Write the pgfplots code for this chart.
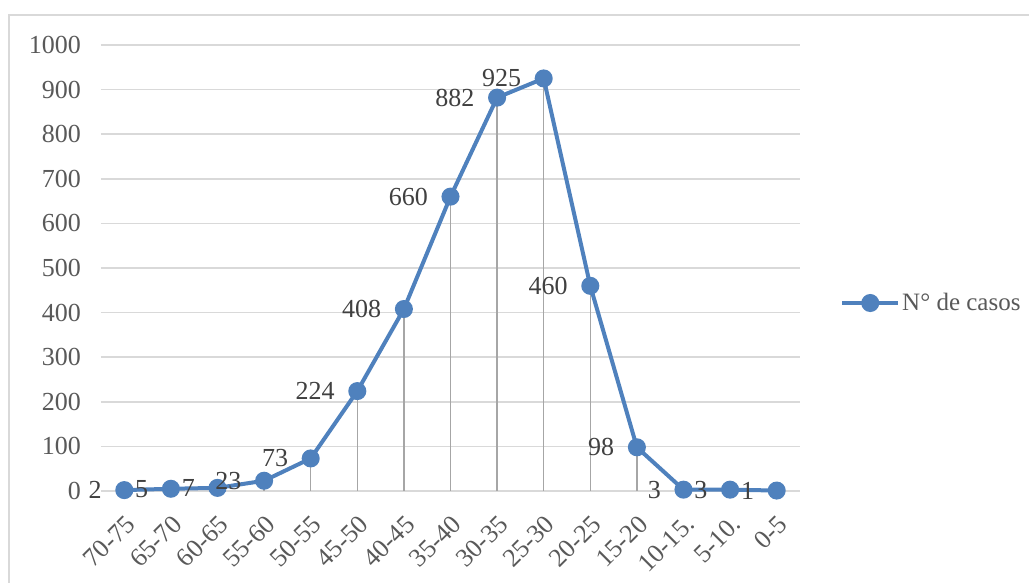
\documentclass[border=0pt]{standalone}
\usepackage{pgfplots}
\pgfplotsset{compat=1.18}
\usepackage{pgfplotstable}
\usepackage{fontspec}
\setmainfont{Liberation Serif}

\definecolor{serie}{HTML}{4F81BD}
\definecolor{rejilla}{HTML}{D9D9D9}
\definecolor{caida}{HTML}{A6A6A6}
\definecolor{texto}{HTML}{595959}
\definecolor{etiqueta}{HTML}{404040}

\newcommand{\letra}{\fontsize{13}{15}\selectfont}

% x = posicion de la categoria, casos = N de casos
\pgfplotstableread{
x casos
0 2
1 5
2 7
3 23
4 73
5 224
6 408
7 660
8 882
9 925
10 460
11 98
12 3
13 3
14 1
}\datos

\begin{document}
\begin{tikzpicture}
\path[use as bounding box] (-50.5pt,-46pt) rectangle (464pt,245.5pt);
\begin{scope}
  \clip (-50.5pt,-46pt) rectangle (464pt,245.5pt);
  \draw[rejilla, line width=1pt] (-46pt,-80pt) -- (-46pt,238pt) -- (500pt,238pt);
\end{scope}
\begin{axis}[
  at={(0,0)}, anchor=south west,
  scale only axis,
  width=349.5pt, height=223pt,
  xmin=-0.5, xmax=14.5,
  ymin=0, ymax=1000,
  clip=false,
  axis line style={draw=none},
  tick style={draw=none},
  ymajorgrids,
  grid style={rejilla, line width=0.75pt},
  ytick={0,100,...,1000},
  xtick={0,...,14},
  xticklabels={70-75,65-70,60-65,55-60,50-55,45-50,40-45,35-40,30-35,25-30,20-25,15-20,{10-15.},{5-10.},0-5},
  /pgf/number format/assume math mode=true,
  /pgf/number format/1000 sep={},
  tick label style={font=\letra, text=texto},
  yticklabel style={anchor=east, xshift=-6.5pt},
  xticklabel style={rotate=45, anchor=east, xshift=-4.5pt, yshift=-12.5pt},
  legend style={at={(axis description cs:1.057,0.4215)}, anchor=west,
    draw=none, fill=none, inner sep=0pt, font=\fontsize{12.5}{15}\selectfont, text=texto,
    nodes={inner sep=1pt}},
  legend image code/.code={
    \draw[mark repeat=2, mark phase=2] plot coordinates {(0pt,0pt) (14pt,0pt) (28pt,0pt)};
  },
]
\addplot[ycomb, caida, line width=0.75pt, mark=none, forget plot]
  table[x=x, y=casos] {\datos};
\addplot[serie, line width=2pt, mark=*, mark size=3.5pt,
  mark options={fill=serie, draw=serie},
  nodes near coords,
  nodes near coords style={anchor=east, xshift=-7pt, font=\letra, text=etiqueta}]
  table[x=x, y=casos] {\datos};
\addlegendentry{N° de casos}
\end{axis}
\end{tikzpicture}
\end{document}
